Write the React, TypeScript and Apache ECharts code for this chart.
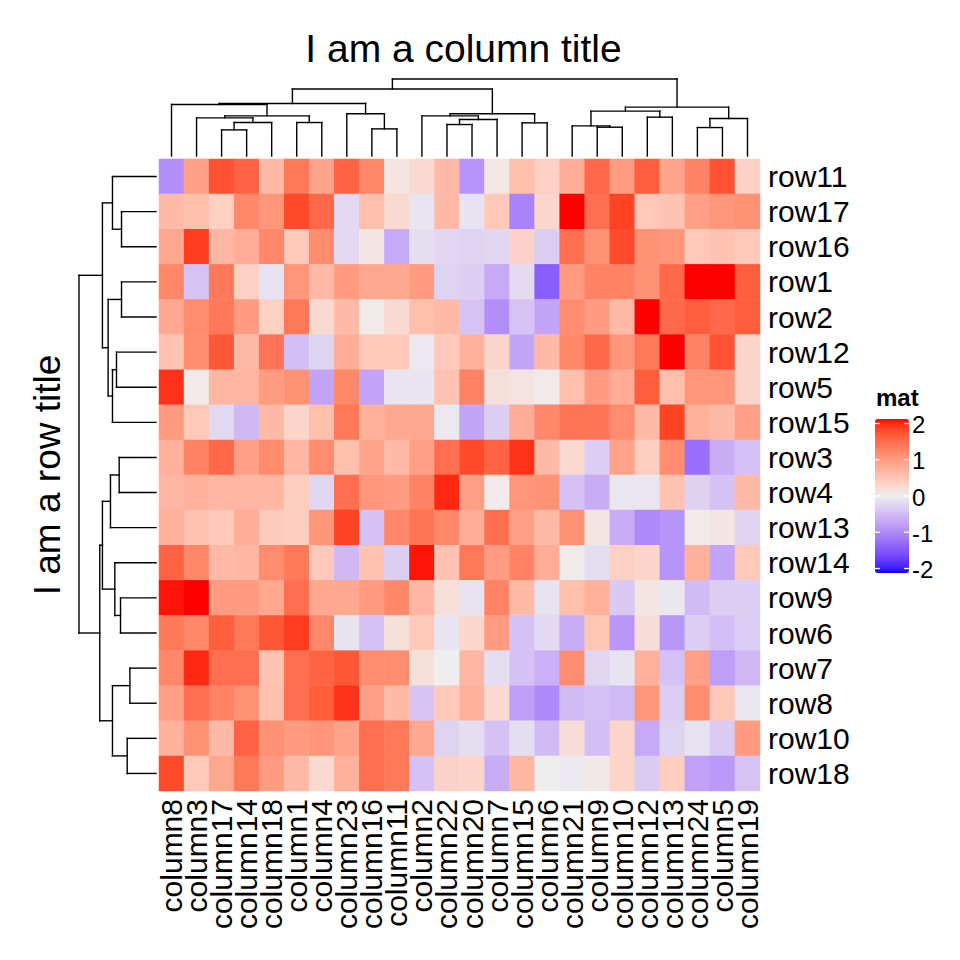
import React, { useEffect, useRef } from "react";
import * as echarts from "echarts";

// ---------- DATA ----------
const rowNames = ["row11","row17","row16","row1","row2","row12","row5","row15","row3","row4","row13","row14","row9","row6","row7","row8","row10","row18"];
const colNames = ["column8","column3","column17","column14","column18","column1","column4","column23","column16","column11","column2","column22","column20","column7","column15","column6","column21","column9","column10","column12","column13","column24","column5","column19"];

const row11 = [-0.9, 0.9, 1.65, 1.5, 0.6, 1.3, 0.85, 1.5, 1.15, 0.1, 0.25, 0.6, -0.85, 0.08, 0.55, 0.35, 0.75, 1.45, 0.95, 1.55, 0.85, 1.2, 1.65, 0.35];
const row17 = [0.6, 0.55, 0.35, 1.15, 1.0, 1.7, 1.45, -0.2, 0.55, 0.25, -0.08, 0.6, -0.1, 0.45, -1.0, 0.28, 2.3, 1.4, 1.75, 0.45, 0.5, 0.9, 1.0, 1.05];
const row16 = [0.8, 1.8, 0.65, 0.75, 1.15, 0.45, 1.1, -0.2, 0.1, -0.65, -0.15, -0.22, -0.25, -0.22, 0.32, -0.32, 1.4, 1.05, 1.7, 1.05, 1.0, 0.45, 0.5, 0.45];
const row1 = [1.15, -0.4, 1.3, 0.35, -0.1, 1.0, 0.6, 0.95, 0.8, 0.8, 0.95, -0.25, -0.3, -0.65, -0.17, -1.35, 0.95, 1.2, 1.2, 1.05, 1.45, 2.2, 2.2, 1.55];
const row2 = [0.8, 1.1, 1.3, 0.95, 0.35, 1.3, 0.25, 0.6, 0.05, 0.25, 0.55, 0.6, -0.4, -0.9, -0.4, -0.68, 1.1, 0.95, 0.6, 2.1, 1.45, 1.55, 1.45, 1.55];
const row12 = [0.5, 1.1, 1.6, 0.6, 1.35, -0.45, -0.25, 0.75, 0.45, 0.45, -0.05, 0.45, 0.7, 0.3, -0.68, 0.6, 1.15, 1.45, 1.0, 1.3, 2.1, 1.2, 1.65, 0.3];
const row5 = [1.85, 0.05, 0.65, 0.65, 0.95, 1.05, -0.7, 1.15, -0.7, -0.08, -0.08, 0.5, 1.2, 0.18, 0.12, 0.03, 0.55, 0.95, 0.75, 1.55, 0.55, 1.0, 1.0, 0.3];
const row15 = [0.95, 0.45, -0.2, -0.5, 0.6, 0.3, 0.55, 1.3, 0.7, 0.8, 0.8, -0.05, -0.68, -0.3, 0.75, 1.15, 1.35, 1.35, 1.1, 0.6, 1.75, 0.7, 0.6, 0.9];
const row3 = [0.7, 1.2, 1.45, 0.9, 1.1, 0.65, 1.1, 0.55, 0.85, 0.6, 0.9, 1.4, 1.7, 1.5, 1.85, 0.6, 0.25, -0.3, 0.85, 0.38, 1.1, -1.2, -0.6, -0.42];
const row4 = [0.65, 0.7, 0.65, 0.65, 0.65, 0.38, -0.22, 1.4, 1.0, 0.95, 1.2, 1.9, 0.9, 0.05, 1.0, 1.05, -0.42, -0.62, -0.07, -0.07, 0.5, -0.27, -0.42, 0.6];
const row13 = [0.7, 0.5, 0.45, 0.75, 0.42, 0.38, 1.0, 1.75, -0.42, 1.15, 1.35, 1.15, 0.75, 1.4, 0.9, 0.6, 1.05, 0.1, -0.62, -0.95, -0.85, 0.05, 0.1, -0.25];
const row14 = [1.5, 1.15, 0.6, 0.65, 1.1, 1.3, 0.43, -0.5, 0.5, -0.3, 1.95, 0.5, 1.3, 0.95, 1.2, 0.75, 0.03, -0.15, 0.35, 0.3, -0.85, 0.7, -0.68, 0.45];
const row9 = [1.95, 2.2, 0.95, 0.95, 0.8, 1.4, 0.8, 0.8, 0.95, 1.15, 0.65, 0.18, -0.12, 1.2, 0.6, -0.12, 0.55, 0.7, -0.35, 0.1, -0.06, -0.47, -0.3, -0.3];
const row6 = [1.3, 1.15, 1.55, 1.3, 1.6, 1.8, 1.15, -0.1, -0.42, 0.18, 0.45, -0.08, 0.28, 0.95, -0.42, -0.2, -0.62, 0.47, -0.82, 0.2, -0.82, -0.3, -0.45, -0.3];
const row7 = [1.15, 1.9, 1.4, 1.4, 0.5, 1.4, 1.5, 1.6, 1.1, 1.1, 0.18, 0.0, 0.65, -0.15, -0.42, -0.58, 1.1, -0.22, -0.1, 0.7, -0.42, 0.9, -0.75, -0.5];
const row8 = [0.9, 1.4, 1.2, 1.05, 0.55, 1.4, 1.55, 1.85, 0.9, 0.6, -0.4, 0.45, 0.7, 0.25, -0.75, -0.95, -0.47, -0.42, -0.48, 1.0, -0.32, 1.1, 0.45, -0.06];
const row10 = [0.7, 1.05, 0.6, 1.5, 1.05, 0.95, 1.0, 0.85, 1.4, 1.3, 0.8, -0.25, -0.15, -0.42, -0.15, -0.47, 0.2, -0.45, 0.3, -0.65, -0.25, -0.1, -0.33, 0.95];
const row18 = [1.7, 0.43, 0.8, 1.3, 0.95, 0.6, 0.25, 0.7, 1.4, 1.3, -0.42, 0.32, 0.3, -0.62, 0.65, 0.0, -0.05, 0.06, 0.3, -0.33, 0.38, -0.72, -0.8, -0.4];

const matRows = [row11, row17, row16, row1, row2, row12, row5, row15, row3, row4, row13, row14, row9, row6, row7, row8, row10, row18];

// Dendrogram merges (hclust style): negative = leaf position (1-based, display order), positive = earlier merge; third = height
const colMerges = [
  [-3, -4, 78], [1, -5, 100], [-2, 2, 114], [-6, -7, 100], [3, 4, 120], [-1, 5, 154],
  [-9, -10, 81], [-8, 7, 126], [6, 8, 157], [-12, -13, 94], [10, -14, 109], [-11, 11, 120],
  [-15, -16, 99], [12, 13, 126], [9, 14, 200], [-18, -19, 86], [-17, 16, 90], [-20, -21, 116],
  [17, 18, 134], [-22, -23, 85], [20, -24, 112], [19, 21, 146], [15, 22, 230],
];
const rowMerges = [
  [-2, -3, 103], [-1, 1, 130], [-4, -5, 103], [-6, -7, 118], [4, -8, 130], [3, 5, 143],
  [2, 6, 160], [-9, -10, 110], [8, -11, 136], [-13, -14, 106], [-12, 10, 123], [9, 11, 160],
  [-15, -16, 78], [-17, -18, 86], [13, 14, 130], [12, 15, 168], [7, 16, 230],
];
const dendroMax = 230;

const legendTicks = [2, 1, 0, -1, -2];
const colorBreaks = [-2, 0, 2];
const colorStops = ["#0000FF", "#EEEEEE", "#FF0000"];

// ---------- helpers ----------
const FONT = '"Liberation Sans", Arial, Helvetica, sans-serif';

function hexToRgb(h: string) {
  const s = h.replace("#", "");
  return [0, 2, 4].map((i) => parseInt(s.slice(i, i + 2), 16));
}
function toLin(c: number) { c /= 255; return c <= 0.04045 ? c / 12.92 : Math.pow((c + 0.055) / 1.055, 2.4); }
function fromLin(c: number) {
  const v = c <= 0.0031308 ? 12.92 * c : 1.055 * Math.pow(c, 1 / 2.4) - 0.055;
  return Math.max(0, Math.min(255, Math.round(v * 255)));
}
const Xn = 0.95047, Yn = 1, Zn = 1.08883;
function f(t: number) { return t > 0.008856 ? Math.cbrt(t) : 7.787 * t + 16 / 116; }
function finv(t: number) { return t > 0.206893 ? t * t * t : (t - 16 / 116) / 7.787; }
function rgbToLab(rgb: number[]) {
  const [r, g, b] = rgb.map(toLin);
  const X = 0.4124564 * r + 0.3575761 * g + 0.1804375 * b;
  const Y = 0.2126729 * r + 0.7151522 * g + 0.072175 * b;
  const Z = 0.0193339 * r + 0.119192 * g + 0.9503041 * b;
  const fx = f(X / Xn), fy = f(Y / Yn), fz = f(Z / Zn);
  return [116 * fy - 16, 500 * (fx - fy), 200 * (fy - fz)];
}
function labToHex(lab: number[]) {
  const [L, a, b] = lab;
  const fy = (L + 16) / 116, fx = fy + a / 500, fz = fy - b / 200;
  const X = Xn * finv(fx), Y = Yn * finv(fy), Z = Zn * finv(fz);
  const r = 3.2404542 * X - 1.5371385 * Y - 0.4985314 * Z;
  const g = -0.969266 * X + 1.8760108 * Y + 0.041556 * Z;
  const bb = 0.0556434 * X - 0.2040259 * Y + 1.0572252 * Z;
  return "#" + [r, g, bb].map(fromLin).map((v) => v.toString(16).padStart(2, "0")).join("");
}
function rampColor(v: number) {
  const labs = colorStops.map((c) => rgbToLab(hexToRgb(c)));
  let i = 0;
  while (i < colorBreaks.length - 2 && v > colorBreaks[i + 1]) i++;
  const t = (v - colorBreaks[i]) / (colorBreaks[i + 1] - colorBreaks[i]);
  const A = labs[i], B = labs[i + 1];
  return labToHex([0, 1, 2].map((k) => A[k] + (B[k] - A[k]) * t));
}

function dendroSegments(merges: number[][]) {
  const pos: number[] = [];
  const hts: number[] = [];
  const segs: number[][] = [];
  const p = (r: number) => (r < 0 ? -r - 0.5 : pos[r - 1]);
  const h = (r: number) => (r < 0 ? 0 : hts[r - 1]);
  merges.forEach(([a, b, ht], i) => {
    const xa = p(a), xb = p(b);
    segs.push([xa, h(a), xa, ht], [xb, h(b), xb, ht], [xa, ht, xb, ht]);
    pos[i] = (xa + xb) / 2;
    hts[i] = ht;
  });
  return segs;
}

// ---------- layout ----------
const HM = { left: 159, top: 159, width: 601, height: 632 };
const DENDRO = 77;
const LEG = { left: 875, top: 419, width: 34, height: 154, tickTop: 423.5, tickSpan: 145 };
const LABEL_SIZE = 30;
const LEGEND_SIZE = 24;

export default function App() {
  const ref = useRef<HTMLDivElement>(null);
  useEffect(() => {
    if (!ref.current) return;
    const chart = echarts.init(ref.current, undefined, { renderer: "svg" });

    const heatData: number[][] = [];
    matRows.forEach((vals, r) => vals.forEach((v, c) => heatData.push([c, r, v])));

    const nStops = 41;
    const vmColors: string[] = [];
    for (let i = 0; i < nStops; i++) vmColors.push(rampColor(-2 + (4 * i) / (nStops - 1)));

    const colSegs = dendroSegments(colMerges);
    const rowSegs = dendroSegments(rowMerges).map(([p1, h1, p2, h2]) => [h1, p1, h2, p2]);

    const lineItem = (params: any, api: any) => {
      const a = api.coord([api.value(0), api.value(1)]);
      const b = api.coord([api.value(2), api.value(3)]);
      return {
        type: "line",
        shape: { x1: a[0], y1: a[1], x2: b[0], y2: b[1] },
        style: { stroke: "#000", lineWidth: 1.4, lineCap: "square" },
      };
    };

    const graphics: any[] = [
      {
        type: "text",
        x: HM.left + HM.width / 2 + 4,
        y: 48,
        style: { text: "I am a column title", font: `39px ${FONT}`, fill: "#000", align: "center", verticalAlign: "middle", textAlign: "center", textVerticalAlign: "middle" },
      },
      {
        type: "text",
        x: 47,
        y: HM.top + HM.height / 2,
        rotation: Math.PI / 2,
        style: { text: "I am a row title", font: `37px ${FONT}`, fill: "#000", align: "center", verticalAlign: "middle", textAlign: "center", textVerticalAlign: "middle" },
      },
      {
        type: "text",
        x: LEG.left + 1,
        y: 397,
        style: { text: "mat", font: `bold ${LEGEND_SIZE}px ${FONT}`, fill: "#000", align: "left", verticalAlign: "middle", textAlign: "left", textVerticalAlign: "middle" },
      },
    ];
    legendTicks.forEach((t) => {
      const y = LEG.tickTop + ((2 - t) / 4) * LEG.tickSpan;
      graphics.push(
        { type: "line", shape: { x1: LEG.left, y1: y, x2: LEG.left + 5, y2: y }, style: { stroke: "#fff", lineWidth: 1.3 }, z: 100 },
        { type: "line", shape: { x1: LEG.left + LEG.width - 5, y1: y, x2: LEG.left + LEG.width, y2: y }, style: { stroke: "#fff", lineWidth: 1.3 }, z: 100 },
        { type: "text", x: LEG.left + LEG.width + 3, y: y + 1, style: { text: String(t), font: `${LEGEND_SIZE}px ${FONT}`, fill: "#000", align: "left", verticalAlign: "middle", textAlign: "left", textVerticalAlign: "middle" } }
      );
    });

    chart.setOption({
      animation: false,
      backgroundColor: "#fff",
      grid: [
        { left: HM.left, top: HM.top, width: HM.width, height: HM.height },
        { left: HM.left, top: HM.top - 3 - DENDRO, width: HM.width, height: DENDRO },
        { left: HM.left - 3 - DENDRO, top: HM.top, width: DENDRO, height: HM.height },
      ],
      xAxis: [
        {
          gridIndex: 0, type: "category", data: colNames, position: "bottom",
          axisLine: { show: false }, axisTick: { show: false }, splitLine: { show: false },
          axisLabel: { rotate: 90, margin: 8, fontSize: LABEL_SIZE, fontFamily: FONT, color: "#000", interval: 0 },
        },
        { gridIndex: 1, type: "value", min: 0, max: colNames.length, show: false },
        { gridIndex: 2, type: "value", min: 0, max: dendroMax, inverse: true, show: false },
      ],
      yAxis: [
        {
          gridIndex: 0, type: "category", data: rowNames, inverse: true, position: "right",
          axisLine: { show: false }, axisTick: { show: false }, splitLine: { show: false },
          axisLabel: { margin: 8, fontSize: LABEL_SIZE, fontFamily: FONT, color: "#000", interval: 0 },
        },
        { gridIndex: 1, type: "value", min: 0, max: dendroMax, show: false },
        { gridIndex: 2, type: "value", min: 0, max: rowNames.length, inverse: true, show: false },
      ],
      visualMap: {
        type: "continuous", min: -2, max: 2, calculable: false, show: true, seriesIndex: 0,
        orient: "vertical", left: LEG.left, top: LEG.top, itemWidth: LEG.width, itemHeight: LEG.height,
        padding: 0, inRange: { color: vmColors }, textStyle: { fontSize: 0 }, hoverLink: false,
      },
      series: [
        {
          type: "heatmap", xAxisIndex: 0, yAxisIndex: 0, data: heatData,
          itemStyle: { borderWidth: 0 }, emphasis: { disabled: true },
        },
        {
          type: "custom", xAxisIndex: 1, yAxisIndex: 1, data: colSegs, renderItem: lineItem,
          encode: { x: [0, 2], y: [1, 3] }, silent: true,
        },
        {
          type: "custom", xAxisIndex: 2, yAxisIndex: 2, data: rowSegs, renderItem: lineItem,
          encode: { x: [0, 2], y: [1, 3] }, silent: true,
        },
      ],
      graphic: graphics,
    });
    return () => chart.dispose();
  }, []);
  return <div ref={ref} style={{ position: "fixed", left: 0, top: 0, width: 960, height: 960 }} />;
}
